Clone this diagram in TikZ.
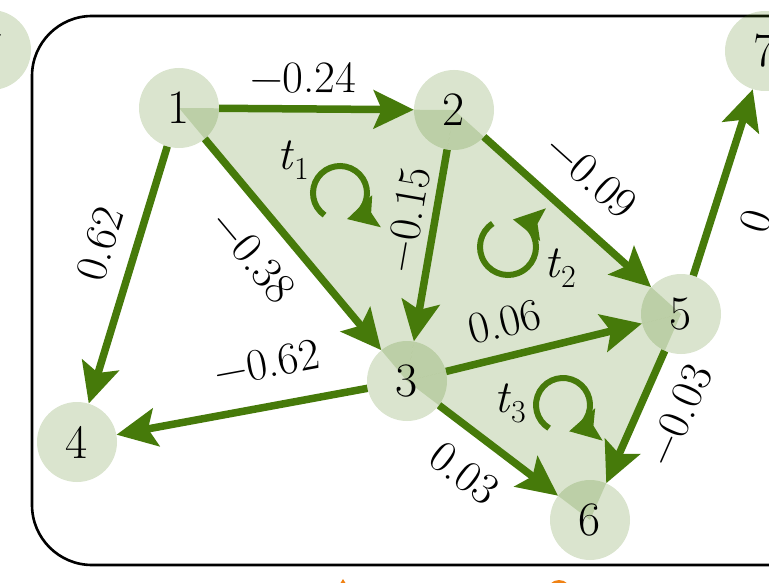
\documentclass[tikz,border=0pt]{standalone}
\usetikzlibrary{arrows.meta,backgrounds}
\definecolor{edgegreen}{RGB}{70,122,10}
\definecolor{accent}{RGB}{240,130,20}
\newcommand{\facename}[1]{\textit{t}\raisebox{-0.22em}{\fontsize{32}{34}\selectfont #1}}
\begin{document}
\begin{tikzpicture}[x=1pt,y=-1pt,
  vertex/.style={circle,minimum size=80pt,inner sep=0pt,fill=edgegreen,
    fill opacity=0.2,text opacity=1,font=\fontsize{48}{52}\selectfont},
  wedge/.style={line width=7.5pt,draw=edgegreen,
    -{Stealth[length=40pt,width=38pt,inset=8pt]}},
  weight/.style={sloped,inner sep=2pt,font=\fontsize{45}{48}\selectfont},
  turn/.style={line width=6pt,draw=edgegreen,
    -{Stealth[length=30pt,width=32pt,inset=5pt]}},
  face/.style={fill=edgegreen,fill opacity=0.2},
  facelabel/.style={inner sep=0pt,font=\fontsize{46}{48}\selectfont},
  frame/.style={line width=2.6pt,rounded corners=60pt}
]
\clip (0,0) rectangle (769,583);

% outer frame
\draw[frame] (32,16) rectangle (840,565);

% shapes peeking in from below
\fill[accent] (343,579) -- (356,600) -- (330,600) -- cycle;
\fill[accent] (559,592) circle (12);

% vertices
\node[vertex] (n1) at (179,108) {1};
\node[vertex] (n2) at (454,110) {2};
\node[vertex] (n3) at (407,381) {3};
\node[vertex] (n4) at (77,442) {4};
\node[vertex] (n5) at (681,314) {5};
\node[vertex] (n6) at (590,520) {6};
\node[vertex] (n7) at (765,51) {7};
\node[vertex] (n7b) at (-9,50) {7};

% triangular faces
\begin{scope}[on background layer]
  \fill[face] (n1.center) -- (n2.center) -- (n3.center) -- cycle;
  \fill[face] (n2.center) -- (n5.center) -- (n3.center) -- cycle;
  \fill[face] (n3.center) -- (n5.center) -- (n6.center) -- cycle;
\end{scope}

% weighted edges
\draw[wedge] (n1) -- node[weight,pos=0.43,above=10pt]{−0.24} (n2);
\draw[wedge] (n1) -- node[weight,pos=0.42,above=15pt]{0.62} (n4);
\draw[wedge] (n1) -- node[weight,pos=0.44,below=17pt]{−0.38} (n3);
\draw[wedge] (n2) -- node[weight,pos=0.39,above=6pt]{−0.15} (n3);
\draw[wedge] (n2) -- node[weight,pos=0.47,above=22pt]{−0.09} (n5);
\draw[wedge] (n3) -- node[weight,pos=0.37,above=22pt]{−0.62} (n4);
\draw[wedge] (n3) -- node[weight,pos=0.34,above=13pt]{0.06} (n5);
\draw[wedge] (n3) -- node[weight,pos=0.41,below=18pt]{0.03} (n6);
\draw[wedge] (n5) -- node[weight,pos=0.37,below=18pt]{−0.03} (n6);
\draw[wedge] (n5) -- node[weight,pos=0.36,below=22pt]{0} (n7);

% face orientations
\coordinate (c1) at (340,193);
\coordinate (c2) at (508,247);
\coordinate (c3) at (563,405);
\draw[turn] (c1) ++(125:27) arc[start angle=125,end angle=435,radius=27];
\draw[turn] (c2) ++(237:28) arc[start angle=237,end angle=-80,radius=28];
\draw[turn] (c3) ++(121:27) arc[start angle=121,end angle=437,radius=27];
\node[facelabel] (l1) at (293,160) {\facename{1}};
\node[facelabel] (l2) at (560,268) {\facename{2}};
\node[facelabel] (l3) at (510,403) {\facename{3}};
\end{tikzpicture}
\end{document}
